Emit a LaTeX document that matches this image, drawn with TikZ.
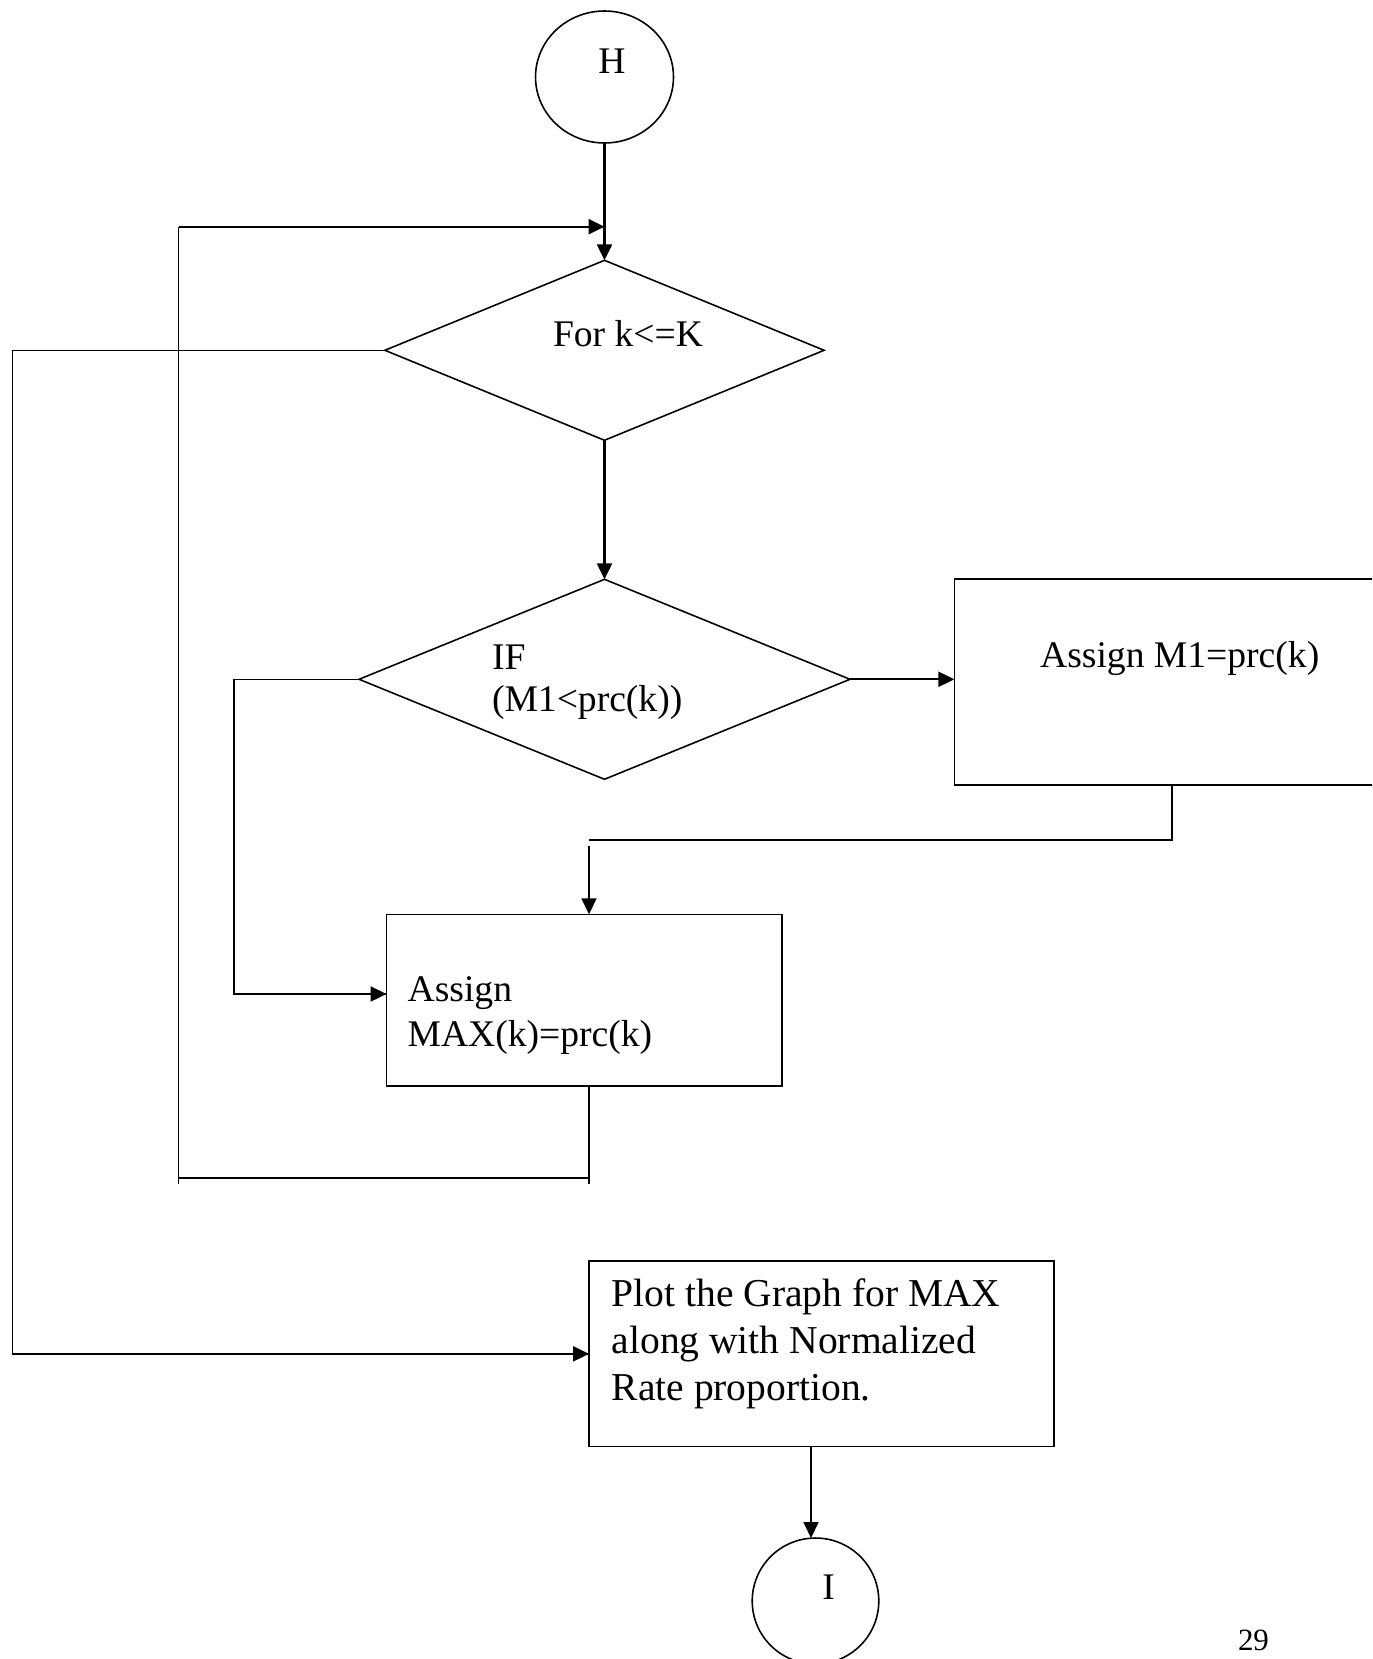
\documentclass[tikz,border=0pt]{standalone}
\usepackage{fontspec}
\setmainfont{Liberation Serif}
\usetikzlibrary{shapes.geometric,arrows.meta}
\begin{document}
\begin{tikzpicture}[x=0.02cm,y=-0.02cm,
  outline/.style={draw=black,line width=0.9pt,inner sep=0pt,outer sep=0pt},
  terminal/.style={outline,ellipse},
  decision/.style={outline,diamond},
  procbox/.style={outline,rectangle},
  lbl/.style={inner sep=0pt,outer sep=0pt,anchor=base west,font=\fontsize{21.4}{24.1}\selectfont},
  link/.style={line width=1.3pt},
  thin link/.style={line width=0.9pt},
  tip/.style={-{Triangle[length=0.32cm,width=0.3cm]}},
  flow/.style={link,tip}]

\useasboundingbox (0,0) rectangle (1372,1659);
\clip (0,0) rectangle (1372,1659);

% shapes
\node[terminal,minimum width=2.76cm,minimum height=2.64cm] (H) at (604.5,77) {};
\node[decision,minimum width=8.786cm,minimum height=3.6cm] (D1) at (604.5,350.3) {};
\node[decision,minimum width=9.82cm,minimum height=4cm] (D2) at (604.5,679.3) {};
\node[procbox,minimum width=9.014cm,minimum height=4.12cm] (M1) at (1179.7,682) {};
\node[procbox,minimum width=7.914cm,minimum height=3.434cm] (MAX) at (584.35,1000.15) {};
\node[procbox,minimum width=9.306cm,minimum height=3.714cm] (PL) at (821.65,1353.85) {};
\node[terminal,minimum width=2.532cm,minimum height=2.52cm] (I) at (815.5,1601) {};

% texts
\node[lbl,anchor=base] (Ht) at (612,73.3) {H};
\node[lbl] (D1t) at (553,346.7) {For k<=K};
\node[lbl] (D2t) at (492,669.3) {\vtop{\hbox{IF}\hbox{(M1<prc(k))}}};
\node[lbl,anchor=base] (M1t) at (1179.7,667.3) {Assign M1=prc(k)};
\node[lbl,font=\fontsize{21.4}{25.6}\selectfont] (MAXt) at (407.6,1001.7)
  {\vtop{\hbox{Assign}\hbox{MAX(k)=prc(k)}}};
\node[lbl,font=\fontsize{22.5}{26.6}\selectfont] (PLt) at (611.7,1306.7)
  {\vtop{\hbox{Plot the Graph for MAX}\hbox{along with Normalized}\hbox{Rate proportion.}}};
\node[lbl,anchor=base] (It) at (828.7,1599) {I};
\node[lbl,font=\fontsize{17.6}{20}\selectfont] (pg) at (1238,1650) {29};

% bend points
\coordinate (loopin) at (604.5,226.7);
\coordinate (retA) at (589,1184);
\coordinate (retB) at (589,1177.7);
\coordinate (retC) at (178.6,1177.7);
\coordinate (retD) at (178.6,1184);
\coordinate (farL) at (12.7,350.3);
\coordinate (m1d) at (1171.7,785);
\coordinate (m1j) at (589,840);
\coordinate (m1k) at (589,846);
\coordinate (bendL) at (234.2,679.3);
\coordinate (maxin) at (386.5,994);
\coordinate (pout) at (811,1446.7);

% connectors
\draw[flow] (H.south) -- (D1.north);
\draw[flow] (D1.south) -- (D2.north);
\draw[thin link] (D1.west) -- (farL) |- (PL.west);
\draw[flow] (farL |- PL.west) -- (PL.west);
\draw[flow] (D2.east) -- (D2.east -| M1.west);
\draw[thin link] (m1d) |- (m1j);
\draw[thin link,tip] (m1k) -- (m1k |- MAX.north);
\draw[thin link] (D2.west) -- (bendL) |- (maxin);
\draw[flow] (bendL |- maxin) -- (maxin);
\draw[thin link] (MAX.south -| retA) -- (retA);
\draw[link] (retB) -- (retC);
\draw[thin link] (retD) -- (retC |- loopin);
\draw[flow] (retC |- loopin) -- (loopin);
\draw[thin link,tip] (pout) -- (pout |- I.north);
\end{tikzpicture}
\end{document}
